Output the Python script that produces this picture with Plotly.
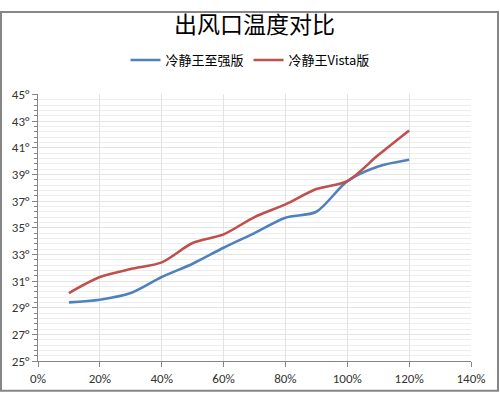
import plotly.graph_objects as go

x_vals = [0.1, 0.2, 0.3, 0.4, 0.5, 0.6, 0.7, 0.8, 0.9, 1.0, 1.1, 1.2]
blue_vals = [29.4, 29.6, 30.1, 31.3, 32.3, 33.5, 34.6, 35.75, 36.2, 38.5, 39.6, 40.1]
red_vals = [30.1, 31.3, 31.9, 32.4, 33.85, 34.5, 35.8, 36.75, 37.9, 38.5, 40.45, 42.3]
series_names = ["冷静王至强版", "冷静王Vista版"]
title_text = "出风口温度对比"

W, H = 500, 398
ml, mr, mt, mb = 38, 29, 87, 33
pw, ph = W - ml - mr, H - mt - mb

font_family = "Calibri, Carlito, 'Liberation Sans', 'Noto Sans CJK SC', sans-serif"

fig = go.Figure()
fig.add_trace(go.Scatter(x=x_vals, y=blue_vals, mode="lines", name=series_names[0],
                         line=dict(color="#4F81BD", width=2.6, shape="spline", smoothing=0.8)))
fig.add_trace(go.Scatter(x=x_vals, y=red_vals, mode="lines", name=series_names[1],
                         line=dict(color="#C0504D", width=2.6, shape="spline", smoothing=0.8)))

def px_to_paper_x(p):
    return (p - ml) / pw

def px_to_paper_y(p):
    return (H - mb - p) / ph

fig.update_layout(
    width=W, height=H,
    margin=dict(l=ml, r=mr, t=mt, b=mb),
    paper_bgcolor="white", plot_bgcolor="white",
    font=dict(family=font_family, size=12, color="#333333"),
    title=dict(text=title_text, x=0.5, xref="paper", xanchor="center",
               y=1 - 25 / H, yanchor="middle",
               font=dict(family="'Noto Sans CJK SC', sans-serif", size=23, color="black")),
    legend=dict(orientation="h", x=0.5, xanchor="center", xref="container",
                y=1 - 60 / H, yanchor="middle", yref="container",
                font=dict(family="'Noto Sans CJK SC', sans-serif", size=13, color="black"),
                itemwidth=30, tracegroupgap=0),
    showlegend=True,
    xaxis=dict(range=[0, 1.4], dtick=0.2, tick0=0, tickformat=".0%",
               showgrid=True, gridcolor="#E3E3E3", gridwidth=1,
               showline=True, linecolor="#868686", linewidth=1,
               ticks="outside", ticklen=5, tickcolor="#868686",
               tickfont=dict(size=13, color="#333333"), zeroline=False, fixedrange=True),
    yaxis=dict(range=[25, 45], dtick=2, tick0=25, ticksuffix="°",
               showgrid=True, gridcolor="#E3E3E3", gridwidth=1,
               showline=True, linecolor="#868686", linewidth=1,
               ticks="outside", ticklen=5, tickcolor="#868686",
               tickfont=dict(size=13, color="#333333"), zeroline=False,
               minor=dict(dtick=0.4, tick0=25, showgrid=True, gridcolor="#EDEDED",
                          ticks="outside", ticklen=3, tickcolor="#868686"),
               fixedrange=True),
    shapes=[dict(type="rect", xref="paper", yref="paper",
                 x0=px_to_paper_x(1), x1=px_to_paper_x(W - 2),
                 y0=px_to_paper_y(H - 2), y1=px_to_paper_y(1),
                 line=dict(color="#868686", width=2), fillcolor="rgba(0,0,0,0)", layer="above")],
)

fig.write_html("out.html", config={"displayModeBar": False},
               post_script="document.body.style.margin='0';document.body.style.padding='0';document.body.style.overflow='hidden';")
